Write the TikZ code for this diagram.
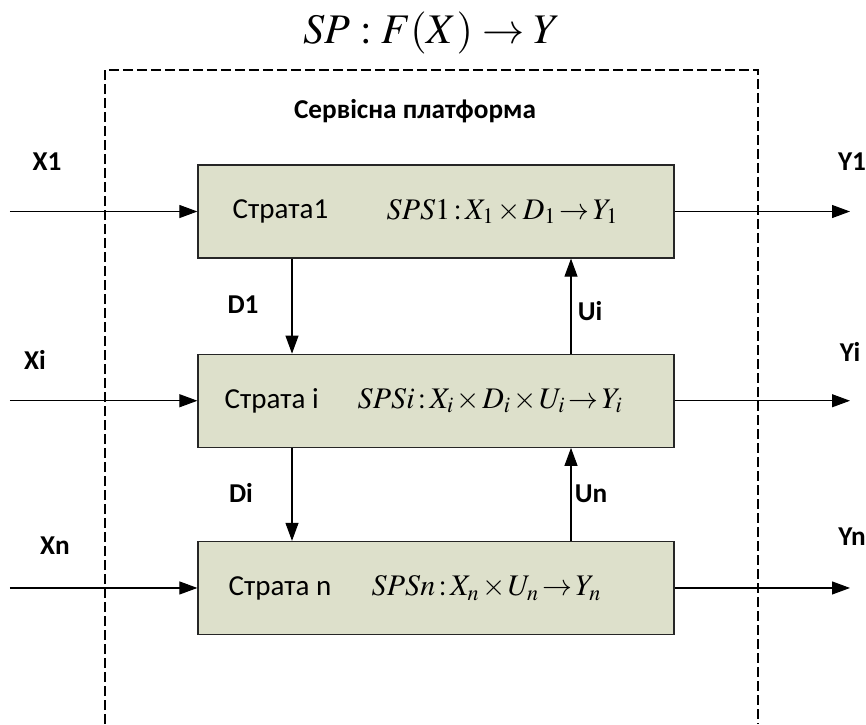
\documentclass[tikz,border=0pt]{standalone}
\usepackage{mathptmx}
\usepackage[no-math]{fontspec}
\setmainfont{Carlito}
\usetikzlibrary{arrows.meta,positioning}
\definecolor{stratafill}{HTML}{DDE0CB}
\newcommand\tightmath{\medmuskip=1.5mu\relax\thickmuskip=2mu\relax}
\tikzset{
  stratabox/.style={rectangle,draw=black!85,line width=0.7pt,fill=stratafill,minimum width=9.52cm,minimum height=1.86cm,inner sep=0pt},
  stratename/.style={anchor=west,inner sep=0pt,font=\fontsize{16.5}{20}\selectfont},
  formula/.style={anchor=west,inner sep=0pt,font=\fontsize{17}{20}\selectfont},
  flow/.style={-{Triangle[length=3.6mm,width=2.6mm]},line width=0.6pt},
  sig/.style={font=\fontsize{15.5}{18}\selectfont\bfseries,inner sep=0pt},
  frame/.style={dash pattern=on 0.2cm off 0.08cm,line width=0.6pt}
}
\begin{document}
\begin{tikzpicture}
    \useasboundingbox (0,0) rectangle (17.32,-14.48);
    \node[font=\fontsize{24}{28}\selectfont] (title) at (8.64,-0.66) {$SP: F(X)\to Y$};
    \draw[frame] (2.1,-14.48) |- (15.16,-1.4) -- (15.16,-14.48);
    \node[sig] (platform) at (8.3,-2.22) {Сервісна платформа};

    \node[stratabox] (s1) at (8.72,-4.23) {};
    \node[stratabox,below=1.9cm of s1] (si) {};
    \node[stratabox,below=1.86cm of si] (sn) {};
    \node[stratename] (n1) at ([xshift=0.7cm]s1.west) {Страта1};
    \node[stratename] (ni) at ([xshift=0.54cm]si.west) {Страта i};
    \node[stratename] (nn) at ([xshift=0.62cm]sn.west) {Страта n};
    \node[formula] (f1) at ([xshift=3.78cm]s1.west) {\tightmath$SPS1: X_1\times D_1\to Y_1$};
    \node[formula] (fi) at ([xshift=3.2cm]si.west) {\tightmath$SPSi: X_i\times D_i\times U_i\to Y_i$};
    \node[formula] (fn) at ([xshift=3.48cm]sn.west) {\tightmath$SPSn: X_n\times U_n\to Y_n$};

    \coordinate (inx) at (0.2,0);
    \coordinate (outx) at (17.0,0);
    \coordinate (dx) at (5.84,0);
    \coordinate (ux) at (11.42,0);
    \draw[flow] (inx |- s1.west) -- (s1.west);
    \draw[flow] (inx |- si.west) -- (si.west);
    \draw[flow] (inx |- sn.west) -- (sn.west);
    \draw[flow] (s1.east) -- (outx |- s1.east);
    \draw[flow] (si.east) -- (outx |- si.east);
    \draw[flow] (sn.east) -- (outx |- sn.east);
    \draw[flow] (dx |- s1.south) -- (dx |- si.north);
    \draw[flow] (dx |- si.south) -- (dx |- sn.north);
    \draw[flow] (ux |- si.north) -- (ux |- s1.south);
    \draw[flow] (ux |- sn.north) -- (ux |- si.south);

    \node[sig] (lx1) at (0.94,-3.24) {X1};
    \node[sig] (lxi) at (0.7,-7.2) {Xi};
    \node[sig] (lxn) at (1.1,-10.92) {Xn};
    \node[sig] (ly1) at (17.04,-3.24) {Y1};
    \node[sig] (lyi) at (17.0,-7.04) {Yi};
    \node[sig] (lyn) at (17.04,-10.74) {Yn};
    \node[sig] (ld1) at (4.86,-6.1) {D1};
    \node[sig] (ldi) at (4.82,-9.86) {Di};
    \node[sig] (lui) at (11.8,-6.22) {Ui};
    \node[sig] (lun) at (11.82,-9.88) {Un};
  \end{tikzpicture}
\end{document}
